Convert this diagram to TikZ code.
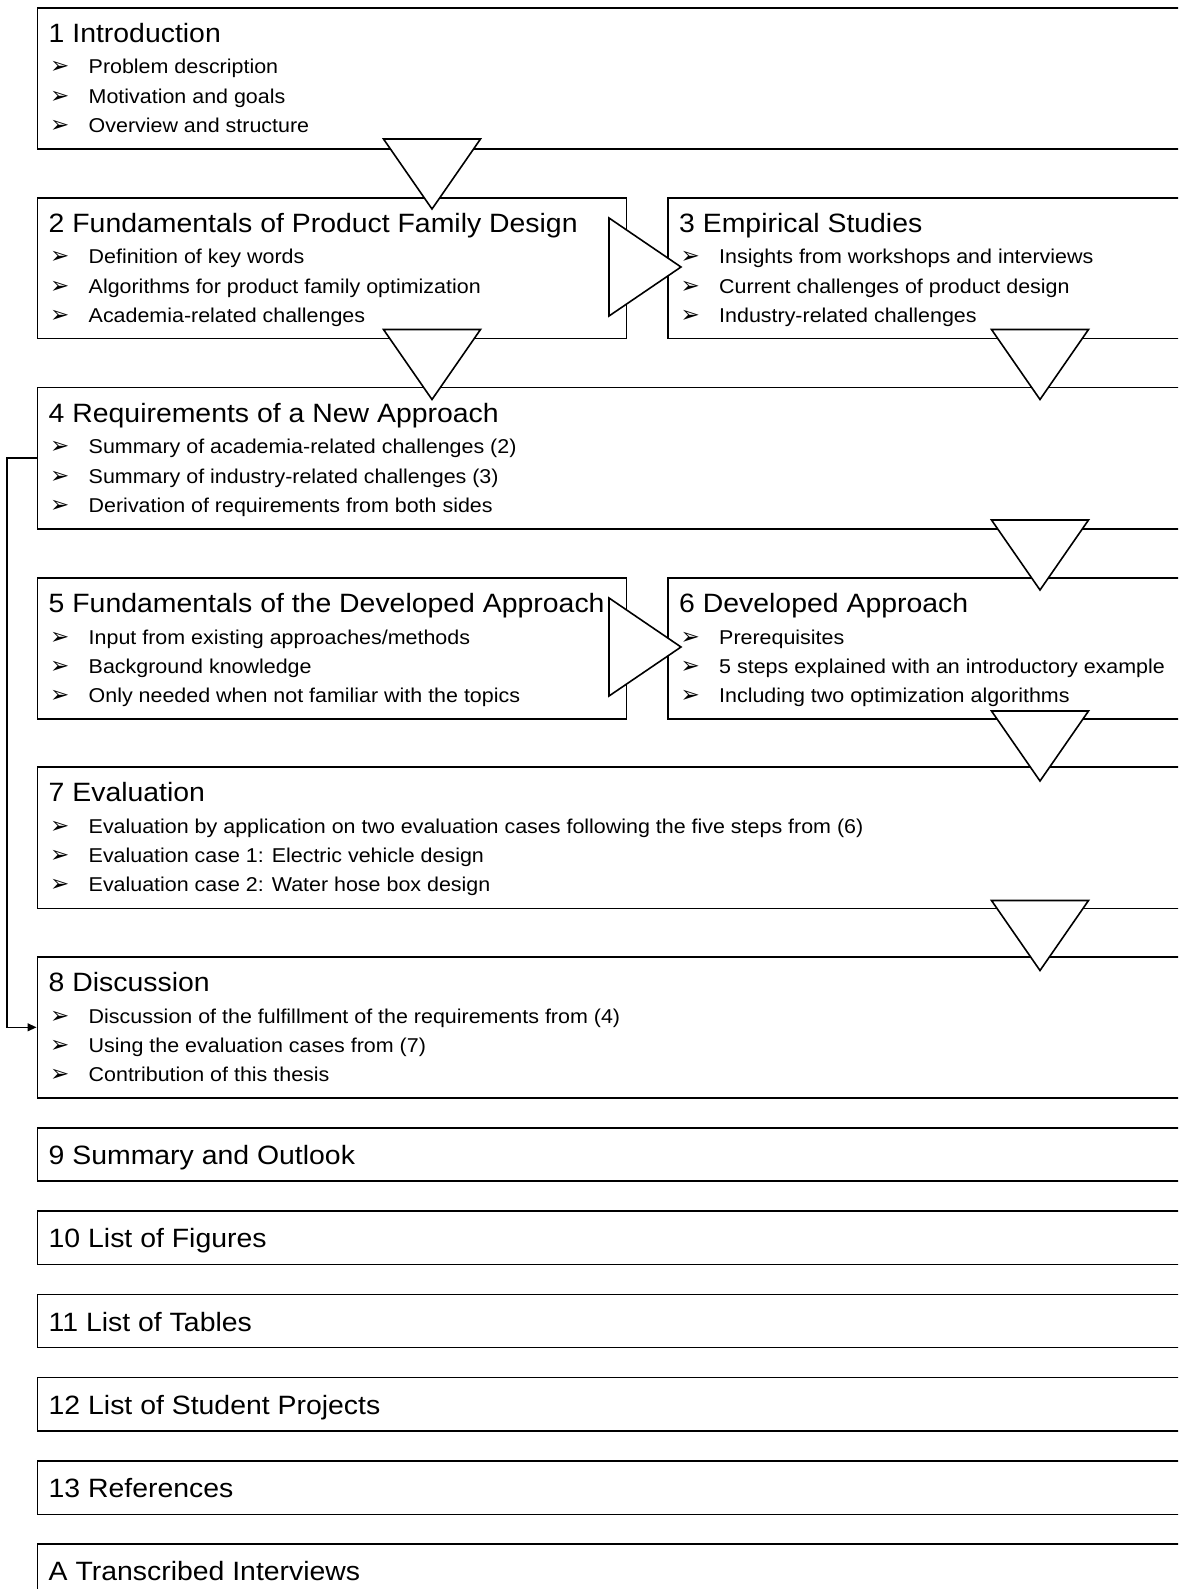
\documentclass[tikz,border=0pt]{standalone}
\usepackage{fontspec}
\setmainfont{Liberation Sans}[FakeStretch=1.072]
\newfontfamily\dingfont{DejaVu Sans}
\usetikzlibrary{calc,arrows.meta}
\tikzset{
  box/.style={draw, line width=1.6pt, rectangle, inner sep=0pt, anchor=north west},
  ttl/.style={anchor=base west, inner sep=0pt, font=\fontsize{26.5}{30}\selectfont},
  itm/.style={anchor=base west, inner sep=0pt, font=\fontsize{20}{24}\selectfont},
  mrk/.style={anchor=base west, inner sep=0pt, font=\dingfont\fontsize{23}{24}\selectfont},
  tri/.style={draw, fill=white, line width=1.6pt, line join=miter},
  conn/.style={line width=1.2pt, -{Triangle[length=9pt,width=8pt]}},
}
\newcommand\bx[5]{\node[box, minimum width=#4, minimum height=#5] (#1) at (#2,#3) {};}
\newcommand\ttlA[2]{\node[ttl] (#1t) at ($(#1.north west)+(12,35.5)$) {#2};}
\newcommand\ttlB[2]{\node[ttl] (#1t) at ($(#1.north west)+(12,37.5)$) {#2};}
\newcommand\itmline[4]{%
  \node[mrk] (#1m#2) at ($(#1.north west)+(13.5,#3)$) {\symbol{"27A2}};
  \node[itm] (#1i#2) at ($(#1.north west)+(52,#3)$) {#4};}
\newcommand\three[4]{\itmline{#1}{1}{67}{#2}\itmline{#1}{2}{96.5}{#3}\itmline{#1}{3}{125.5}{#4}}
\newcommand\dtri[2]{\filldraw[tri] (#1-48.5,#2) -- (#1+48.5,#2) -- (#1,#2+70) -- cycle;}
\newcommand\rtri[2]{\filldraw[tri] (#1,#2-49) -- (#1,#2+49) -- (#1+72,#2) -- cycle;}
\begin{document}
\begin{tikzpicture}[x=1pt, y=-1pt]
\useasboundingbox (0,0) rectangle (1178,1589);
\clip (0,0) rectangle (1178,1589);
% boxes
\bx{b1}{36.5}{7}{1163.5}{141}
\bx{b2}{36.5}{197}{589}{140.5}
\bx{b3}{667}{197}{533}{140.5}
\bx{b4}{36.5}{386.5}{1163.5}{141.5}
\bx{b5}{36.5}{577}{589}{141}
\bx{b6}{667}{577}{533}{141}
\bx{b7}{36.5}{766}{1163.5}{141.5}
\bx{b8}{36.5}{956}{1163.5}{141}
\bx{b9}{36.5}{1127}{1163.5}{53}
\bx{b10}{36.5}{1210}{1163.5}{53.5}
\bx{b11}{36.5}{1293.5}{1163.5}{53}
\bx{b12}{36.5}{1376.5}{1163.5}{53.5}
\bx{b13}{36.5}{1460}{1163.5}{53.5}
\bx{bA}{36.5}{1543}{1163.5}{70}
% texts
\ttlA{b1}{1 Introduction}
\three{b1}{Problem description}{Motivation and goals}{Overview and structure}
\ttlA{b2}{2 Fundamentals of Product Family Design}
\three{b2}{Definition of key words}{Algorithms for product family optimization}{Academia-related challenges}
\ttlA{b3}{3 Empirical Studies}
\three{b3}{Insights from workshops and interviews}{Current challenges of product design}{Industry-related challenges}
\ttlA{b4}{4 Requirements of a New Approach}
\three{b4}{Summary of academia-related challenges (2)}{Summary of industry-related challenges (3)}{Derivation of requirements from both sides}
\ttlA{b5}{5 Fundamentals of the Developed Approach}
\three{b5}{Input from existing approaches/methods}{Background knowledge}{Only needed when not familiar with the topics}
\ttlA{b6}{6 Developed Approach}
\three{b6}{Prerequisites}{5 steps explained with an introductory example}{Including two optimization algorithms}
\ttlA{b7}{7 Evaluation}
\three{b7}{Evaluation by application on two evaluation cases following the five steps from (6)}{Evaluation case 1: Electric vehicle design}{Evaluation case 2: Water hose box design}
\ttlA{b8}{8 Discussion}
\three{b8}{Discussion of the fulfillment of the requirements from (4)}{Using the evaluation cases from (7)}{Contribution of this thesis}
\ttlB{b9}{9 Summary and Outlook}
\ttlB{b10}{10 List of Figures}
\ttlB{b11}{11 List of Tables}
\ttlB{b12}{12 List of Student Projects}
\ttlB{b13}{13 References}
\ttlB{bA}{A Transcribed Interviews}
% block arrows
\dtri{432}{139}
\rtri{609}{267}
\dtri{432}{329.5}
\dtri{1040}{329.5}
\dtri{1040}{520}
\rtri{609}{647}
\dtri{1040}{711}
\dtri{1040}{900.5}
% connector
\draw[conn] (b4.west) -- ++(-29.5,0) |- (b8.west);
\end{tikzpicture}
\end{document}
